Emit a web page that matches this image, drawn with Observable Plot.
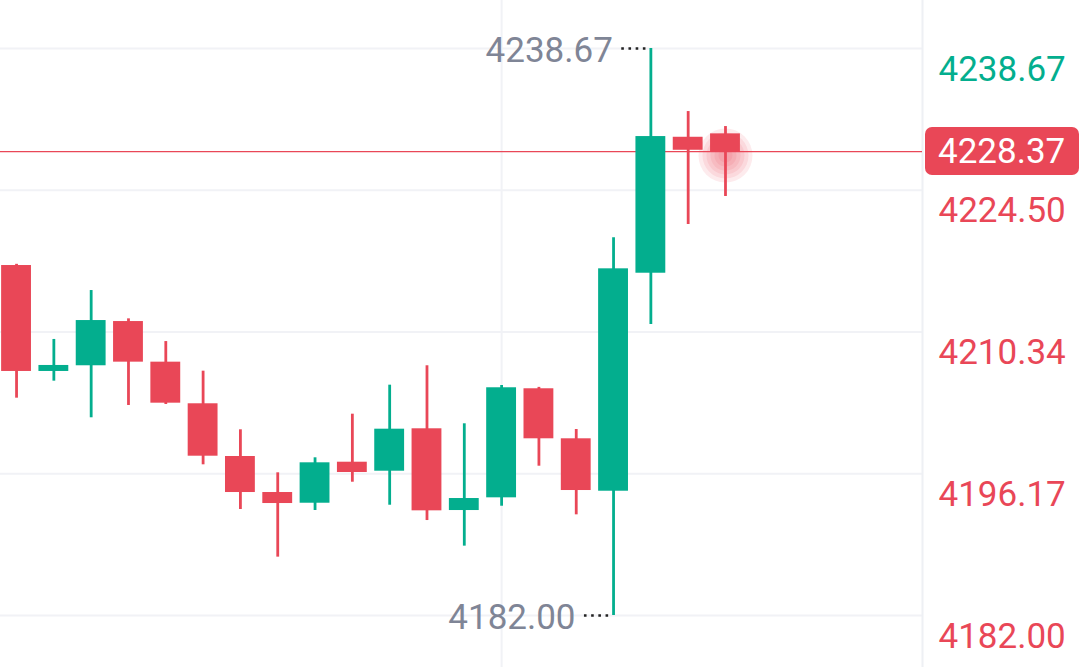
<!DOCTYPE html>
<html>
<head>
<meta charset="utf-8">
<script src="https://cdn.jsdelivr.net/npm/d3@7"></script>
<script src="https://cdn.jsdelivr.net/npm/@observablehq/plot@0.6"></script>
<style>
  html, body { margin: 0; padding: 0; background: #ffffff; }
  #chart { width: 1080px; height: 667px; overflow: hidden; }
</style>
</head>
<body>
<div id="chart"></div>
<script>
// ---- data ----
const candleIndex = [0,1,2,3,4,5,6,7,8,9,10,11,12,13,14,15,16,17,18,19];
const opens  = [4216.98,4206.39,4206.96,4211.38,4207.32,4203.16,4197.89,4194.29,4193.22,4197.32,4196.42,4200.66,4192.49,4193.76,4204.66,4199.66,4194.42,4216.21,4229.80,4230.14];
const highs  = [4217.10,4209.59,4214.48,4211.65,4209.38,4206.42,4200.56,4196.26,4197.76,4202.12,4205.02,4206.96,4201.16,4204.99,4204.80,4200.59,4219.75,4238.67,4232.37,4230.87];
const lows   = [4203.72,4205.42,4201.76,4202.99,4203.09,4197.06,4192.59,4187.83,4192.49,4195.32,4193.02,4191.49,4188.93,4192.92,4196.92,4192.06,4182.00,4211.08,4221.08,4223.88];
const closes = [4206.39,4206.99,4211.48,4207.32,4203.22,4197.92,4194.29,4193.19,4197.26,4196.29,4200.62,4192.46,4193.69,4204.76,4199.66,4194.49,4216.65,4229.87,4228.50,4228.37];
const priceTicks = [4238.67, 4224.50, 4210.34, 4196.17, 4182.00];
const priceTickLabels = ["4238.67", "4224.50", "4210.34", "4196.17", "4182.00"];
const timeGrid = [13];
const lastPrice = 4228.37;
const lastPriceLabel = "4228.37";
const highMark = {i: 17, price: 4238.67, label: "4238.67"};
const lowMark = {i: 16, price: 4182.00, label: "4182.00"};
const glowRadii = [27, 23, 19, 15, 11, 7];

// ---- styles ----
const GREEN = "#03ae8e";
const RED = "#e94757";
const GRID = "#f1f2f6";
const GRAY = "#7f8596";
const W = 1080, H = 667;

const candles = candleIndex.map(i => ({i, o: opens[i], h: highs[i], l: lows[i], c: closes[i]}));
const tickData = priceTicks.map((v, k) => ({v, label: priceTickLabels[k], k}));
const marksHL = [highMark, lowMark];
const lastCandle = candles[candles.length - 1];

const chart = Plot.plot({
  width: W,
  height: H,
  marginLeft: 0,
  marginRight: 158,
  marginTop: 0,
  marginBottom: 0,
  style: {fontFamily: "Roboto, 'Noto Sans', sans-serif", background: "#ffffff", overflow: "visible"},
  x: {type: "linear", domain: [-0.43, 24.28], axis: null},
  y: {type: "linear", domain: [4176.80, 4243.47], axis: null},
  marks: [
    Plot.ruleY(priceTicks, {stroke: GRID, strokeWidth: 2}),
    Plot.ruleX(timeGrid, {stroke: GRID, strokeWidth: 2}),
    Plot.frame({anchor: "right", stroke: "#eef0f4", strokeWidth: 2}),
    Plot.ruleY([lastPrice], {stroke: RED, strokeWidth: 1.2}),
    ...glowRadii.map(r => Plot.dot([lastCandle], {x: "i", y: "c", dy: 4, r, fill: RED, fillOpacity: 0.11, stroke: "none"})),
    Plot.ruleX(candles, {x: "i", y1: "l", y2: "h", stroke: d => d.c >= d.o ? GREEN : RED, strokeWidth: 2.8}),
    Plot.rect(candles, {x1: d => d.i - 0.4, x2: d => d.i + 0.4, y1: "o", y2: "c", fill: d => d.c >= d.o ? GREEN : RED}),
    // dotted leaders to high / low
    Plot.ruleY(marksHL, {x1: d => d.i - 0.78, x2: d => d.i - 0.02, y: "price", stroke: "#222222", strokeWidth: 2.6, strokeDasharray: "2.6,4.6"}),
    Plot.text(marksHL, {x: "i", y: "price", text: "label", dx: -38, dy: 2.5, textAnchor: "end", fill: GRAY, fontSize: 35, lineAnchor: "middle"}),
    // right axis labels
    Plot.text(tickData, {y: "v", text: "label", frameAnchor: "right", dx: 16, dy: 21, textAnchor: "start", lineAnchor: "middle", fontSize: 35, fill: d => d.k === 0 ? GREEN : RED})
  ]
});

document.getElementById("chart").appendChild(chart);

// last-price badge on the right axis
const svg = d3.select(chart);
const ys = chart.scale("y");
const xs = chart.scale("x");
const yP = ys.apply(lastPrice);
const xR = xs.apply(xs.domain[1]);
const badge = svg.append("g");
badge.append("rect")
  .attr("x", xR + 3).attr("y", yP - 24)
  .attr("width", W - xR - 4).attr("height", 48)
  .attr("rx", 7).attr("fill", RED);
badge.append("text")
  .attr("x", xR + 16).attr("y", yP)
  .attr("dy", "0.35em")
  .attr("text-anchor", "start")
  .attr("fill", "#ffffff")
  .attr("font-size", 35)
  .attr("font-family", "Roboto, 'Noto Sans', sans-serif")
  .text(lastPriceLabel);
</script>
</body>
</html>
